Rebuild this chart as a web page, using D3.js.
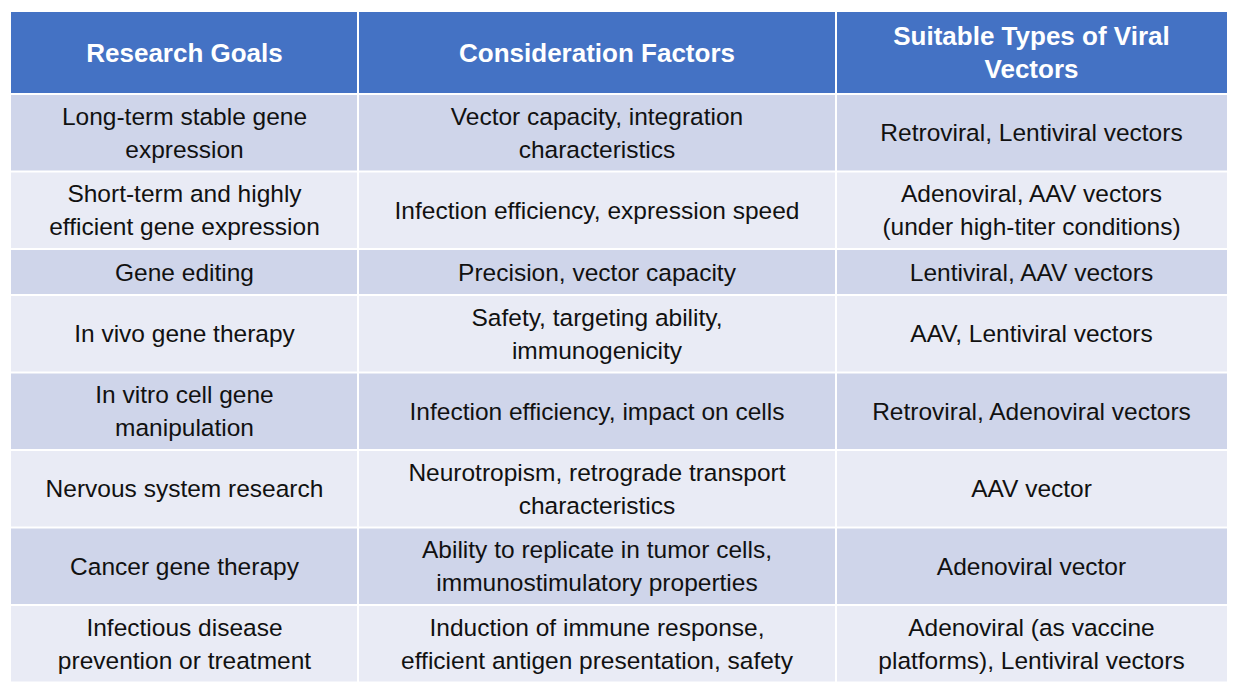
<!DOCTYPE html>
<html><head><meta charset="utf-8">
<script src="https://cdn.jsdelivr.net/npm/d3@7"></script>
<style>body{margin:0;background:#fff}svg{display:block}</style>
</head><body><svg id="c" width="1241" height="693"></svg>
<script>
const headers = [["Research Goals"], ["Consideration Factors"], ["Suitable Types of Viral", "Vectors"]];
const goals = [
 ["Long-term stable gene","expression"],
 ["Short-term and highly","efficient gene expression"],
 ["Gene editing"],
 ["In vivo gene therapy"],
 ["In vitro cell gene","manipulation"],
 ["Nervous system research"],
 ["Cancer gene therapy"],
 ["Infectious disease","prevention or treatment"]];
const factors = [
 ["Vector capacity, integration","characteristics"],
 ["Infection efficiency, expression speed"],
 ["Precision, vector capacity"],
 ["Safety, targeting ability,","immunogenicity"],
 ["Infection efficiency, impact on cells"],
 ["Neurotropism, retrograde transport","characteristics"],
 ["Ability to replicate in tumor cells,","immunostimulatory properties"],
 ["Induction of immune response,","efficient antigen presentation, safety"]];
const vectors = [
 ["Retroviral, Lentiviral vectors"],
 ["Adenoviral, AAV vectors","(under high-titer conditions)"],
 ["Lentiviral, AAV vectors"],
 ["AAV, Lentiviral vectors"],
 ["Retroviral, Adenoviral vectors"],
 ["AAV vector"],
 ["Adenoviral vector"],
 ["Adenoviral (as vaccine","platforms), Lentiviral vectors"]];

const svg = d3.select("#c");
const colEdges = [11, 358, 836, 1227];
const gap = 2;
const tableTop = 12, headerH = 82;
const rowH = i => { const n = Math.max(goals[i].length, factors[i].length, vectors[i].length); return n > 1 ? 77.5 : 46; };
const rowY = []; let yy = tableTop + headerH;
goals.forEach((g,i)=>{ rowY.push(yy); yy += rowH(i); });
const lineH = 33;

function cell(x0,x1,y0,y1,fill,lines,opts){
  svg.append("rect").attr("x",x0+(x0>11?gap/2:0)).attr("y",y0+gap/2)
    .attr("width",x1-x0-(x0>11?gap/2:0)-(x1<1227?gap/2:0)).attr("height",y1-y0-gap).attr("fill",fill);
  const cx=(x0+x1)/2, cy=(y0+y1)/2;
  lines.forEach((t,k)=>{
    svg.append("text").attr("x",cx).attr("y",cy+(k-(lines.length-1)/2)*lineH)
      .attr("text-anchor","middle").attr("dominant-baseline","central")
      .attr("font-family","Liberation Sans, Arial, sans-serif")
      .attr("font-size",opts.size).attr("font-weight",opts.bold?"bold":"normal")
      .attr("fill",opts.color).text(t);
  });
}
headers.forEach((h,j)=>cell(colEdges[j],colEdges[j+1],tableTop-gap/2,tableTop+headerH,"#4472C4",h,{size:26,bold:true,color:"#fff"}));
const cols=[goals,factors,vectors];
goals.forEach((g,i)=>{
  const fill = i%2===0 ? "#CFD5EA" : "#E9EBF5";
  cols.forEach((c,j)=>cell(colEdges[j],colEdges[j+1],rowY[i],rowY[i]+rowH(i),fill,c[i],{size:24.5,color:"#111"}));
});
</script></body></html>
